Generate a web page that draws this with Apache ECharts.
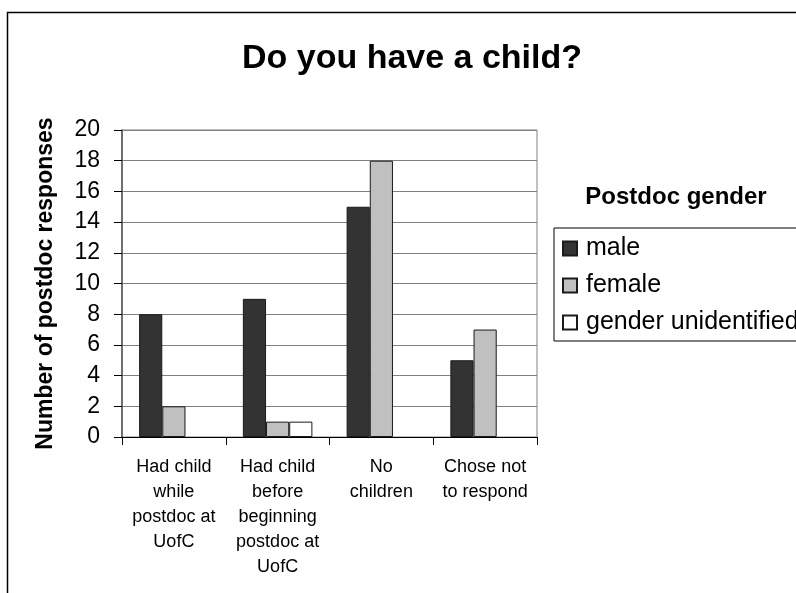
<!DOCTYPE html>
<html>
<head>
<meta charset="utf-8">
<script src="https://cdn.jsdelivr.net/npm/echarts@6/dist/echarts.min.js"></script>
<style>
  html, body { margin: 0; padding: 0; background: #fff; }
  #chart { width: 796px; height: 593px; }
</style>
</head>
<body>
<div id="chart"></div>
<script>
// Responses per answer, split by postdoc gender
const categories = [
  'Had child\nwhile\npostdoc at\nUofC',
  'Had child\nbefore\nbeginning\npostdoc at\nUofC',
  'No\nchildren',
  'Chose not\nto respond'
];
const male = [8, 9, 15, 5];
const female = [2, 1, 18, 7];
const genderUnidentified = [0, 1, 0, 0];
const yTicks = [0, 2, 4, 6, 8, 10, 12, 14, 16, 18, 20];

const FONT = 'Liberation Sans, Arial, sans-serif';
const chart = echarts.init(document.getElementById('chart'));

function barSeries(name, data, color) {
  return {
    name: name,
    type: 'bar',
    data: data.map(v => v === 0 ? null : v),
    barGap: '0%',
    barCategoryGap: '33%',
    itemStyle: { color: color, borderColor: '#1a1a1a', borderWidth: 1 },
    emphasis: { disabled: true }
  };
}

chart.setOption({
  animation: false,
  backgroundColor: '#fff',
  title: [
    {
      text: 'Do you have a child?',
      left: 407, top: 37, textAlign: 'center',
      textStyle: { fontFamily: FONT, fontSize: 34, fontWeight: 'bold', color: '#000' }
    },
    {
      text: 'Postdoc gender',
      left: 671, top: 180, textAlign: 'center',
      textStyle: { fontFamily: FONT, fontSize: 24, fontWeight: 'bold', color: '#000' }
    }
  ],
  graphic: [
    {
      type: 'rect',
      shape: { x: 7.5, y: 12.5, width: 900, height: 700 },
      style: { fill: 'none', stroke: '#000', lineWidth: 1.5 },
      silent: true
    }
  ],
  legend: {
    orient: 'vertical',
    left: 554, top: 228,
    padding: [8, 20, 6, 8],
    itemGap: 12,
    itemWidth: 14, itemHeight: 14,
    icon: 'rect',
    borderColor: '#000', borderWidth: 1,
    textStyle: { fontFamily: FONT, fontSize: 25, color: '#000', padding: [0, 0, 0, 4] },
    data: ['male', 'female', 'gender unidentified']
  },
  grid: {
    left: 122, top: 130, width: 415, height: 307, containLabel: false,
    show: true, borderColor: '#808080', borderWidth: 1
  },
  xAxis: {
    type: 'category',
    data: categories,
    axisLine: { lineStyle: { color: '#000', width: 1 } },
    axisTick: { show: true, length: 8, lineStyle: { color: '#000' } },
    axisLabel: {
      interval: 0, margin: 18,
      fontFamily: FONT, fontSize: 18, lineHeight: 25, color: '#000', align: 'center'
    }
  },
  yAxis: {
    type: 'value',
    min: yTicks[0], max: yTicks[yTicks.length - 1], interval: 2,
    name: 'Number of postdoc responses',
    nameLocation: 'middle', nameGap: 65, nameRotate: 90,
    nameTextStyle: { fontFamily: FONT, fontSize: 23, fontWeight: 'bold', color: '#000' },
    axisLine: { show: true, lineStyle: { color: '#555', width: 1.5 } },
    axisTick: { show: true, length: 8, lineStyle: { color: '#000' } },
    axisLabel: { fontFamily: FONT, fontSize: 23, color: '#000', margin: 22 },
    splitLine: { show: true, lineStyle: { color: '#808080', width: 1 } }
  },
  series: [
    barSeries('male', male, '#333333'),
    barSeries('female', female, '#c0c0c0'),
    barSeries('gender unidentified', genderUnidentified, '#ffffff')
  ]
});
</script>
</body>
</html>
